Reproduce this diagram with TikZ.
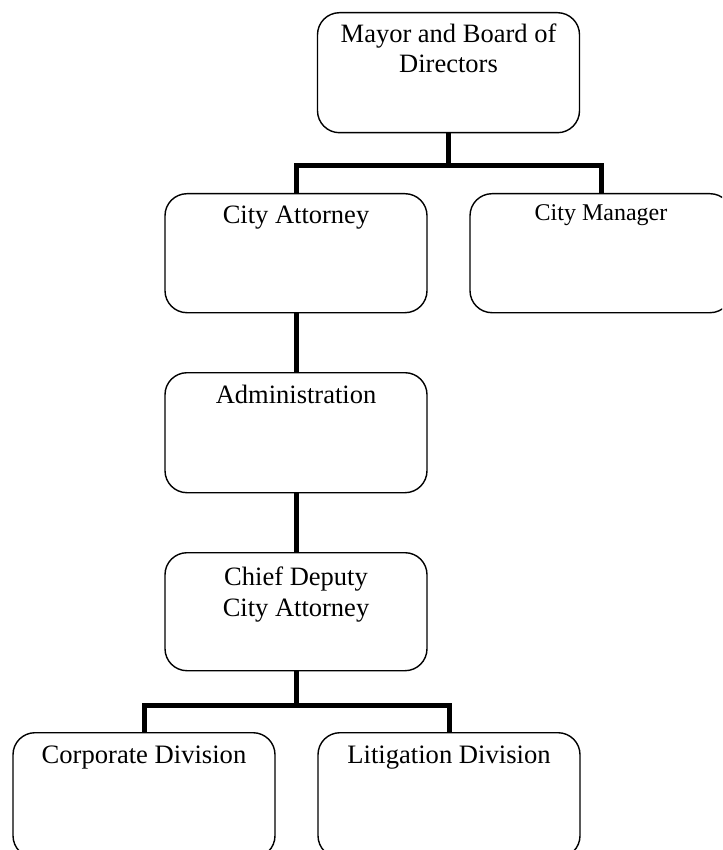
\documentclass[tikz,border=0pt]{standalone}
\usepackage{fontspec}
\setmainfont{Liberation Serif}
\begin{document}
\begin{tikzpicture}[x=1pt,y=-1pt,
  orgbox/.style={draw=black, line width=1.4pt, rounded corners=22pt, minimum width=262pt, minimum height=119pt, inner sep=0pt, anchor=north},
  conn/.style={draw=black, line width=5pt, line join=miter},
  lbl/.style={anchor=base, inner sep=0pt, font=\fontsize{26.5pt}{30pt}\selectfont},
  lblsmall/.style={anchor=base, inner sep=0pt, font=\fontsize{24pt}{28pt}\selectfont},
  lblbig/.style={anchor=base, inner sep=0pt, font=\fontsize{26.6pt}{31pt}\selectfont}]
\useasboundingbox (0,0) rectangle (722,850);
\clip (0,0) rectangle (722,850);
% boxes
\node[orgbox, minimum height=120pt] (mayor) at (448.5,12) {};
\node[orgbox] (ca) at (296,193) {};
\node[orgbox] (cm) at (601,193) {};
\node[orgbox, minimum height=120pt] (adm) at (296,372) {};
\node[orgbox, minimum height=118pt] (cd) at (296,552) {};
\node[orgbox, minimum height=125pt] (corp) at (144,732) {};
\node[orgbox, minimum height=125pt] (lit) at (449,732) {};
% labels
\node[lbl] (mayor-t1) at ([yshift=-31pt]mayor.north) {Mayor and Board of};
\node[lbl] (mayor-t2) at ([yshift=-61pt]mayor.north) {Directors};
\node[lbl] (ca-t) at ([yshift=-30pt]ca.north) {City Attorney};
\node[lblsmall] (cm-t) at ([yshift=-28pt]cm.north) {City Manager};
\node[lbl] (adm-t) at ([yshift=-31pt]adm.north) {Administration};
\node[lbl] (cd-t1) at ([yshift=-33pt]cd.north) {Chief Deputy};
\node[lbl] (cd-t2) at ([yshift=-64pt]cd.north) {City Attorney};
\node[lblbig] (corp-t) at ([yshift=-31pt]corp.north) {Corporate Division};
\node[lblbig] (lit-t) at ([yshift=-31pt]lit.north) {Litigation Division};
% connectors
\draw[conn] (mayor.south) -- ++(0,32) coordinate (j1);
\draw[conn] (ca.north) |- (j1) -| (cm.north);
\draw[conn] (ca.south) -- (adm.north);
\draw[conn] (adm.south) -- (cd.north);
\draw[conn] (cd.south) -- ++(0,34.5) coordinate (j2);
\draw[conn] (corp.north) |- (j2) -| (lit.north);
\end{tikzpicture}
\end{document}
